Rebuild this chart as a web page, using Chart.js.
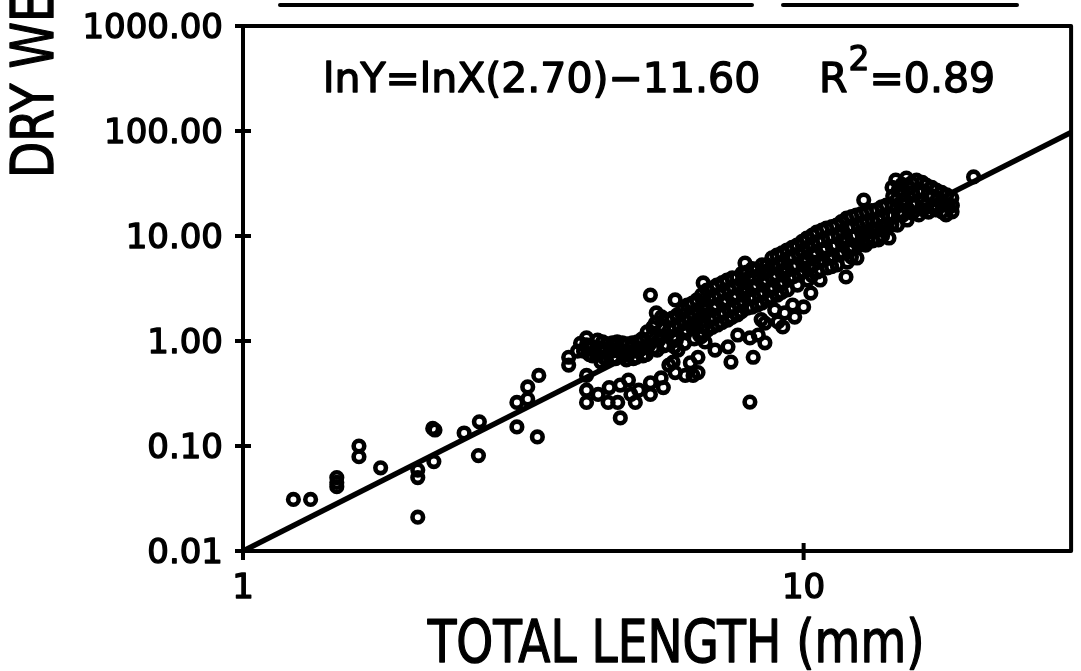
<!DOCTYPE html>
<html><head><meta charset="utf-8">
<script src="https://cdn.jsdelivr.net/npm/chart.js@4/dist/chart.umd.min.js"></script>
<style>html,body{margin:0;padding:0;background:#fff;overflow:hidden}canvas{display:block}</style>
</head><body>
<canvas id="c" width="1081" height="671"></canvas>
<script>
// ---- data ----
const lengthMm = [
 1.23,1.32,1.47,1.47,1.47,1.61,1.61,1.76,2.05,2.05,2.05,2.2,2.18,2.19,2.48,2.64,2.63,3.08,3.08,3.22,3.22,3.35,3.37,
 3.81,3.81,3.95,4.1,4.1,4.15,4.1,4.1,4.1,
 4.0,4.05,4.2,4.2,
 4.29,4.33,4.27,4.35,4.30,4.47,4.52,4.45,4.50,4.48,
 4.38,4.42,4.40,4.56,4.60,4.58,4.61,4.75,4.79,4.77,4.95,4.99,4.97,4.94,5.15,5.19,5.17,
 4.65,4.70,4.62,4.71,4.66,4.71,4.85,4.90,4.83,4.87,4.92,
 5.05,5.10,5.03,5.01,5.08,5.26,5.30,5.24,5.33,5.33,5.33,
 5.46,5.44,5.52,5.48,5.57,5.62,5.71,5.76,5.69,5.90,5.75,5.90,
 5.38,5.36,5.40,5.58,5.62,5.60,5.63,5.83,5.87,5.85,5.88,6.08,6.12,6.10,6.13,
 5.95,6.00,5.93,5.97,6.15,5.85,6.20,6.25,6.18,6.28,6.35,
 6.45,6.50,6.43,6.52,6.48,6.48,6.62,6.72,6.78,6.70,6.80,6.74,6.67,
 6.33,6.37,6.35,6.38,6.58,6.62,6.60,6.63,6.57,6.88,6.92,6.90,6.93,6.87,
 7.00,7.06,6.98,7.08,7.02,6.95,7.30,7.36,7.28,7.38,7.32,7.33,7.42,
 7.16,7.20,7.18,7.21,7.15,7.46,7.50,7.48,7.51,7.45,7.76,7.80,7.78,7.81,7.75,
 7.60,7.66,7.58,7.68,7.62,7.63,7.86,7.92,7.98,7.90,8.00,7.94,8.02,8.13,8.02,
 8.10,8.14,8.12,8.15,8.09,8.43,8.47,8.45,8.48,8.42,8.78,8.82,8.80,8.83,8.77,
 8.25,8.32,8.22,8.34,8.27,8.40,8.30,8.60,8.66,8.58,8.70,8.62,8.53,8.53,
 8.96,9.02,8.93,9.05,8.98,8.88,9.00,9.34,9.40,9.31,9.43,9.36,9.25,9.18,
 9.15,9.19,9.17,9.20,9.14,9.54,9.58,9.56,9.59,9.94,9.98,9.96,9.99,
 9.73,9.80,9.70,9.82,9.75,9.56,9.64,10.13,10.2,10.1,10.25,10.17,10.0,10.3,
 10.36,10.40,10.38,10.41,10.35,10.78,10.82,10.80,10.83,11.23,11.27,11.25,11.28,11.22,
 10.55,10.62,10.5,10.65,10.58,10.7,10.98,11.07,10.95,11.1,11.03,
 11.45,11.52,11.4,11.55,11.48,11.9,11.93,12.0,11.9,12.05,11.97,
 11.68,11.72,11.70,11.73,12.18,12.22,12.20,12.23,12.17,12.68,12.72,12.70,12.73,
 12.42,12.5,12.38,12.55,12.45,12.8,12.95,12.95,13.05,12.9,
 13.23,13.27,13.25,13.28,13.78,13.82,13.80,13.83,14.38,14.42,14.40,14.43,14.37,
 13.5,13.58,13.45,13.6,14.05,14.15,14.0,14.2,
 14.6,14.75,14.65,14.8,14.7,15.25,15.35,15.2,15.4,15.3,
 14.98,15.02,15.00,15.03,15.58,15.62,15.60,15.63,16.28,16.32,16.30,16.33,
 15.9,16.0,15.85,16.05,16.55,16.65,16.5,16.7,
 16.93,16.97,16.95,17.63,17.67,17.65,18.38,18.42,18.40,
 17.25,17.35,17.2,18.0,18.1,17.95,20.1
];
const dryWeightMg = [
 0.031,0.031,0.050,0.041,0.045,0.10,0.079,0.062,0.059,0.050,0.021,0.142,0.147,0.071,0.133,0.17,0.081,0.26,0.152,0.28,0.365,0.122,0.47,
 0.70,0.59,0.80,1.07,0.92,0.74,0.47,0.34,0.26,
 0.95,0.80,0.88,0.72,
 1.02,0.86,0.74,0.63,0.31,0.94,0.80,0.66,0.36,0.26,
 0.98,0.83,0.70,0.96,0.81,0.70,0.90,0.96,0.80,0.72,0.96,0.80,0.68,0.88,1.05,0.86,0.72,
 0.98,0.82,0.68,0.38,0.26,0.185,0.94,0.785,0.66,0.425,0.31,
 0.98,0.82,0.70,0.26,0.34,1.22,0.92,0.74,0.40,0.31,2.74,
 1.85,1.48,1.02,0.82,0.445,0.36,1.58,1.27,0.92,0.50,0.59,2.46,
 1.35,1.1,0.86,1.7,1.35,1.12,0.90,1.65,1.35,1.1,0.88,2.0,1.55,1.2,0.95,
 1.77,1.42,1.02,0.82,0.47,0.63,2.2,1.66,1.27,0.62,0.47,
 2.46,1.89,1.52,1.14,0.70,0.50,3.57,3.06,2.46,1.97,1.58,1.27,0.98,
 2.3,1.78,1.4,1.05,2.75,2.2,1.75,1.4,1.1,3.2,2.6,2.05,1.65,1.35,
 3.41,2.74,2.2,1.77,1.42,0.82,3.81,3.06,2.46,1.97,1.58,0.88,0.63,
 3.6,2.9,2.3,1.85,1.5,4.0,3.2,2.6,2.1,1.68,4.4,3.6,2.9,2.35,1.9,
 3.98,3.41,2.74,2.2,1.77,1.14,5.53,4.54,3.98,3.2,2.57,2.06,1.07,0.70,0.262,
 4.9,4.0,3.2,2.6,2.1,5.3,4.4,3.6,2.9,2.3,6.2,5.0,4.0,3.2,2.6,
 4.74,4.25,3.41,2.74,2.2,1.60,1.14,5.3,4.74,3.81,3.06,2.46,0.96,1.48,
 6.59,5.3,4.25,3.41,2.74,1.97,1.52,7.36,6.17,4.96,3.98,3.06,1.85,1.36,
 6.9,5.6,4.5,3.6,2.9,7.8,6.3,5.1,4.1,8.9,7.1,5.7,4.6,
 8.2,6.59,5.3,4.25,3.41,2.2,1.69,9.57,7.69,6.17,4.96,3.81,2.11,2.86,
 10.2,8.2,6.6,5.3,4.2,11.4,9.1,7.3,5.9,12.3,9.9,7.9,6.4,5.1,
 10.9,8.77,7.05,5.65,4.54,3.81,11.9,9.57,7.69,6.17,4.96,
 12.7,10.2,8.2,6.59,5.3,4.07,14.8,11.9,9.57,7.36,5.65,
 13.7,11.0,8.8,7.0,15.3,12.3,9.9,7.9,6.3,16.3,13.2,10.6,8.5,
 15.85,12.7,10.2,8.2,6.17,22.0,16.9,13.6,10.9,8.2,
 17.5,14.0,11.2,9.0,19.0,15.3,12.3,10.0,29.0,24.0,19.5,15.6,12.8,
 17.7,14.2,11.4,9.16,19.7,15.85,12.7,9.57,
 34.1,27.4,22.0,16.9,12.7,35.6,28.6,22.0,17.7,14.2,
 31.0,25.0,19.8,15.8,32.0,25.5,20.0,16.5,32.5,27.0,21.5,17.8,
 34.1,26.2,19.7,15.85,30.6,24.6,19.7,16.9,
 29.0,24.0,19.0,26.0,21.0,17.0,23.0,19.5,17.0,
 27.4,23.0,17.7,24.6,19.7,15.85,36.5
];
// fitted line end points
const fitLengthMm = [1, 30];
const fitWeightMg = [0.01, 97];
// axes
const xTicks = [1, 10];
const xTickLabels = ['1', '10'];
const yTicks = [0.01, 0.1, 1, 10, 100, 1000];
const yTickLabels = ['0.01', '0.10', '1.00', '10.00', '100.00', '1000.00'];
const xTitle = 'TOTAL LENGTH (mm)';
const yTitle = 'DRY WEIGHT (mg)';
const equationText = 'lnY=lnX(2.70)\u221211.60';
const r2Parts = ['R', '2', '=0.89'];

const FONT = '"DejaVu Sans", "Liberation Sans", sans-serif';

function boldText(ctx, txt, x, y, w) {
  ctx.fillText(txt, x, y);
  ctx.lineWidth = w;
  ctx.strokeText(txt, x, y);
}

const decorPlugin = {
  id: 'decor',
  afterDraw(chart) {
    const { ctx, chartArea: a, scales: { x, y } } = chart;
    ctx.save();
    ctx.strokeStyle = '#000';
    ctx.fillStyle = '#000';
    ctx.lineJoin = 'round';
    // frame
    ctx.lineWidth = 4;
    ctx.strokeRect(a.left, a.top, a.right - a.left, a.bottom - a.top);
    // crossing tick marks + tick labels
    ctx.font = '34px ' + FONT;
    yTicks.forEach((v, i) => {
      const py = y.getPixelForValue(v);
      ctx.lineWidth = 4;
      ctx.beginPath(); ctx.moveTo(a.left - 8, py); ctx.lineTo(a.left + 8, py); ctx.stroke();
      ctx.textAlign = 'right'; ctx.textBaseline = 'alphabetic';
      boldText(ctx, yTickLabels[i], a.left - 20, py + 12, 1.4);
    });
    xTicks.forEach((v, i) => {
      const px = x.getPixelForValue(v);
      ctx.lineWidth = 4;
      ctx.beginPath(); ctx.moveTo(px, a.bottom - 8); ctx.lineTo(px, a.bottom + 9); ctx.stroke();
      ctx.textAlign = 'center'; ctx.textBaseline = 'alphabetic';
      boldText(ctx, xTickLabels[i], px, a.bottom + 47, 1.4);
    });
    // remnants of the cut-off title above the chart
    ctx.lineWidth = 4;
    ctx.lineCap = 'round';
    ctx.beginPath(); ctx.moveTo(a.left + 37, 5); ctx.lineTo(a.left + 509, 5); ctx.stroke();
    ctx.beginPath(); ctx.moveTo(a.left + 540, 5); ctx.lineTo(a.left + 774, 5); ctx.stroke();
    // x title
    ctx.font = '58px ' + FONT;
    ctx.textBaseline = 'alphabetic';
    ctx.save();
    ctx.translate((a.left + a.right) / 2 + 19, 662);
    ctx.scale(0.81, 1);
    ctx.textAlign = 'center';
    boldText(ctx, xTitle, 0, 0, 1.4);
    ctx.restore();
    // y title (rotated, cut by the top edge)
    ctx.save();
    ctx.translate(53, 178);
    ctx.rotate(-Math.PI / 2);
    ctx.scale(0.81, 1);
    ctx.textAlign = 'left';
    boldText(ctx, yTitle, 0, 0, 1.4);
    ctx.restore();
    // equation
    ctx.textAlign = 'left';
    ctx.font = '41px ' + FONT;
    boldText(ctx, equationText, a.left + 80, 92, 1.4);
    let px = a.left + 576;
    boldText(ctx, r2Parts[0], px, 92, 1.4);
    px += ctx.measureText(r2Parts[0]).width + 1;
    ctx.font = '33px ' + FONT;
    boldText(ctx, r2Parts[1], px, 70, 1.3);
    px += ctx.measureText(r2Parts[1]).width;
    ctx.font = '41px ' + FONT;
    boldText(ctx, r2Parts[2], px, 92, 1.4);
    ctx.restore();
  }
};

function zeroPad(s) { s.paddingTop = 0; s.paddingBottom = 0; s.paddingLeft = 0; s.paddingRight = 0; }

new Chart(document.getElementById('c').getContext('2d'), {
  type: 'scatter',
  data: {
    datasets: [
      {
        type: 'scatter',
        data: lengthMm.map((v, i) => ({ x: v, y: dryWeightMg[i] })),
        pointStyle: 'circle',
        pointRadius: 5.3,
        pointBorderWidth: 4.6,
        pointBorderColor: '#000',
        pointBackgroundColor: 'rgba(0,0,0,0)',
        borderColor: '#000',
        backgroundColor: 'rgba(0,0,0,0)'
      },
      {
        type: 'line',
        data: fitLengthMm.map((v, i) => ({ x: v, y: fitWeightMg[i] })),
        borderColor: '#000',
        borderWidth: 5.5,
        pointRadius: 0,
        pointBorderWidth: 0,
        fill: false
      }
    ]
  },
  options: {
    responsive: false,
    animation: false,
    events: [],
    elements: {
      point: { radius: 5.3, borderWidth: 4.6, borderColor: '#000', backgroundColor: 'rgba(0,0,0,0)' }
    },
    layout: { padding: { top: 26, right: 4, left: 0, bottom: 0 } },
    plugins: { legend: { display: false }, tooltip: { enabled: false } },
    scales: {
      x: {
        type: 'logarithmic', min: 1, max: 30, position: 'bottom',
        afterBuildTicks: s => { s.ticks = xTicks.map(v => ({ value: v })); },
        afterFit: s => { s.height = 120; zeroPad(s); },
        ticks: { display: false },
        grid: { display: false },
        border: { display: false }
      },
      y: {
        type: 'logarithmic', min: 0.01, max: 1000, position: 'left',
        afterBuildTicks: s => { s.ticks = yTicks.map(v => ({ value: v })); },
        afterFit: s => { s.width = 243; zeroPad(s); },
        ticks: { display: false },
        grid: { display: false },
        border: { display: false }
      }
    }
  },
  plugins: [decorPlugin]
});
</script>
</body></html>
